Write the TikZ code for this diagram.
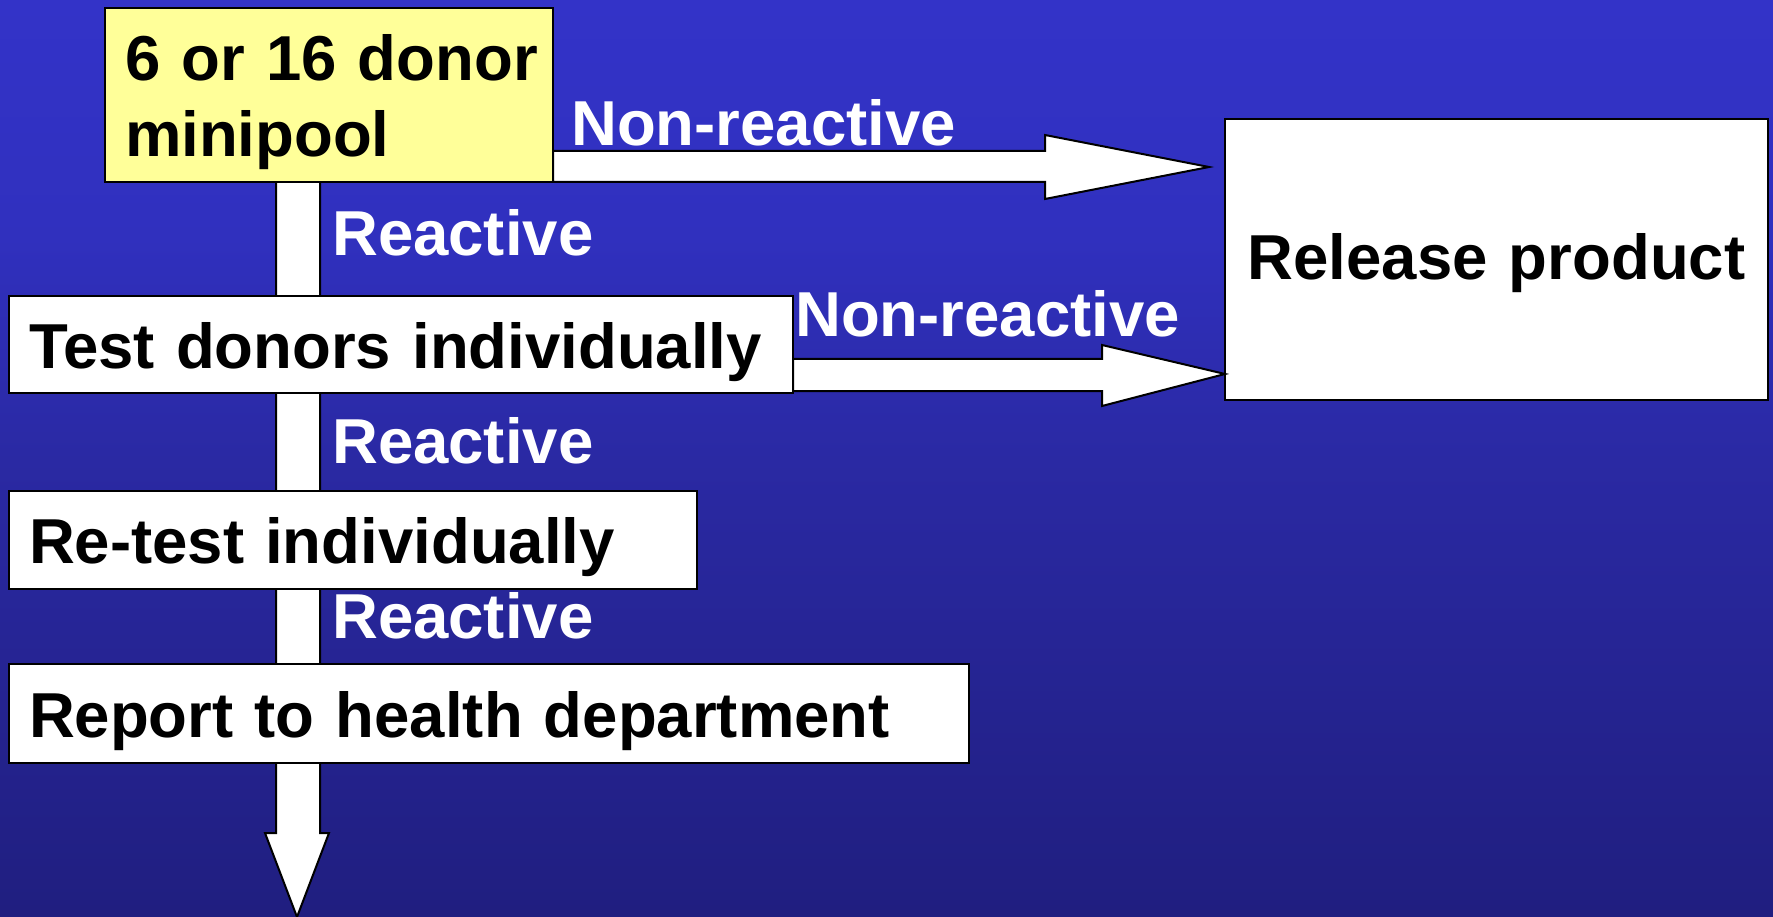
\documentclass[tikz,border=0pt]{standalone}
\usepackage{fontspec}
\setmainfont{Liberation Sans}
\usetikzlibrary{calc}

% slide background: flat blue at the top, darkening towards the bottom
\pgfdeclareverticalshading{slidebg}{100bp}{%
  rgb(0bp)=(0.110,0.102,0.435);
  rgb(25bp)=(0.125,0.118,0.500);
  rgb(50bp)=(0.165,0.161,0.640);
  rgb(62bp)=(0.188,0.188,0.745);
  rgb(75bp)=(0.200,0.200,0.785);
  rgb(100bp)=(0.200,0.200,0.790)}

\pgfdeclarelayer{bg}
\pgfdeclarelayer{shaft}
\pgfsetlayers{bg,shaft,main}

\definecolor{poolyellow}{RGB}{255,255,153}

\tikzset{
  bigfont/.style={font=\bfseries\fontsize{63.5}{76}\selectfont},
  box/.style={draw=black, line width=2pt, fill=white, anchor=north west,
    inner xsep=20pt, inner ysep=0pt, outer sep=0pt, align=left, bigfont},
  lbl/.style={text=white, anchor=base west, inner sep=0pt, bigfont},
  fatarrow/.style={draw=black, line width=2pt, fill=white, line join=miter}
}

\begin{document}
\begin{tikzpicture}[x=1pt,y=-1pt]
\begin{pgfonlayer}{bg}
  \shade[shading=slidebg] (0,0) rectangle (1773,917);
\end{pgfonlayer}
\useasboundingbox (0,0) rectangle (1773,917);

% process boxes
\node[box, fill=poolyellow, text width=408pt, text height=73pt, text depth=101pt]
  (pool) at (105,8) {\mbox{6 or 16 donor}\\minipool};
\node[box, align=center, text width=503pt, text height=161pt, text depth=120pt]
  (release) at (1225,119) {Release product};
\node[box, text width=744pt, text height=72pt, text depth=25pt]
  (test) at (9,296) {Test donors individually};
\node[box, text width=648pt, text height=72pt, text depth=26pt]
  (retest) at (9,491) {Re-test individually};
\node[box, text width=920pt, text height=73pt, text depth=26pt]
  (report) at (9,664) {Report to health department};

% branch labels
\node[lbl] (nr1) at (571,146) {Non-reactive};
\node[lbl] (nr2) at (795,337) {Non-reactive};
\node[lbl] (r1) at (332,256) {Reactive};
\node[lbl] (r2) at (332,463) {Reactive};
\node[lbl] (r3) at (332,638) {Reactive};

% free ends of the block arrows
\coordinate (tip1) at (1209,167);
\coordinate (down) at (297,917);

% main vertical block arrow, running behind the boxes
\begin{pgfonlayer}{shaft}
  \path[fatarrow] (276,0 |- pool.south) -- (276,833) -- (265,833) -- (down)
    -- (329,833) -- (320,833) -- (320,0 |- pool.south) -- cycle;
\end{pgfonlayer}

% minipool -> release product
\path[fatarrow] (pool.south east) -- ++(0,-31) -- ++(492,0) -- ++(0,-16)
  -- (tip1) -- ++(-164,32) -- ++(0,-17) -- cycle;

% individual test -> release product
\path[fatarrow] ($(test.south east)+(0,-2)$) -- ++(0,-32) -- ++(309,0) -- ++(0,-14)
  -- ($(release.south west)+(0,-26)$) -- ++(-123,32) -- ++(0,-15) -- cycle;
\end{tikzpicture}
\end{document}
